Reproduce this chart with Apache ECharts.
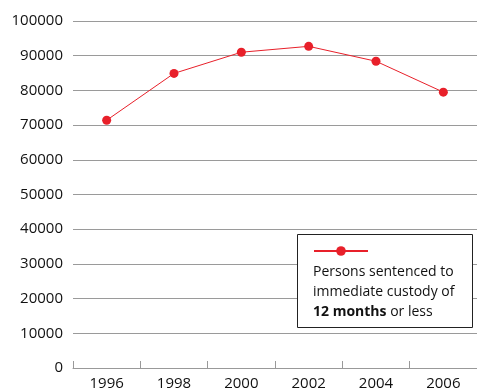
<!DOCTYPE html>
<html>
<head>
<meta charset="utf-8">
<script src="https://cdn.jsdelivr.net/npm/echarts@6/dist/echarts.min.js"></script>
<style>
  html, body { margin: 0; padding: 0; background: #fff; }
  #chart { width: 477px; height: 392px; }
</style>
</head>
<body>
<div id="chart"></div>
<script>
	var years = ['1996', '1998', '2000', '2002', '2004', '2006'];
	var persons = [71400, 84900, 91000, 92700, 88400, 79500];
	var seriesName = 'Persons sentenced to immediate custody of 12 months or less';
	var font = '"Open Sans", "Noto Sans", sans-serif';

	var chart = echarts.init(document.getElementById('chart'));

	var option = {
		animation: false,
		backgroundColor: '#fff',
		grid: { left: 73, right: -4, top: 21, bottom: 24 },
		xAxis: {
			type: 'category',
			data: years,
			boundaryGap: true,
			axisLine: { lineStyle: { color: '#999', width: 1 } },
			axisTick: { show: true, inside: true, length: 7, lineStyle: { color: '#999' } },
			axisLabel: { color: '#111', fontSize: 15, fontFamily: font, margin: 8 }
		},
		yAxis: {
			type: 'value',
			min: 0, max: 100000, interval: 10000,
			axisLine: { show: false },
			axisTick: { show: false },
			axisLabel: {
				color: '#111', fontSize: 15, fontFamily: font, margin: 10,
				formatter: function (v) { return String(v); }
			},
			splitLine: { lineStyle: { color: '#9a9a9a', width: 1 } }
		},
		legend: {
			left: 308, top: 240,
			padding: 5,
			itemWidth: 54, itemHeight: 12,
			z: 10,
			data: [seriesName],
			formatter: function () { return ''; },
			selectedMode: false
		},
		graphic: [
			{
				type: 'rect',
				shape: { x: 297.5, y: 234.5, width: 175, height: 93 },
				style: { fill: '#fff', stroke: '#222', lineWidth: 1 },
				z: 5
			},
			{
				type: 'text',
				left: 313, top: 262,
				z: 6,
				style: {
					text: 'Persons sentenced to\nimmediate custody of\n{b|12 months} or less',
					fill: '#111',
					font: '14px ' + font,
					lineHeight: 20,
					rich: {
						b: { fontWeight: 'bold', fontSize: 14, fontFamily: font, fill: '#111', lineHeight: 20 }
					}
				}
			}
		],
		series: [
			{
				name: seriesName,
				type: 'line',
				data: persons,
				symbol: 'circle',
				symbolSize: 9,
				itemStyle: { color: '#e8202a' },
				lineStyle: { color: '#e8202a', width: 1 }
			}
		]
	};

	chart.setOption(option);
</script>
</body>
</html>
